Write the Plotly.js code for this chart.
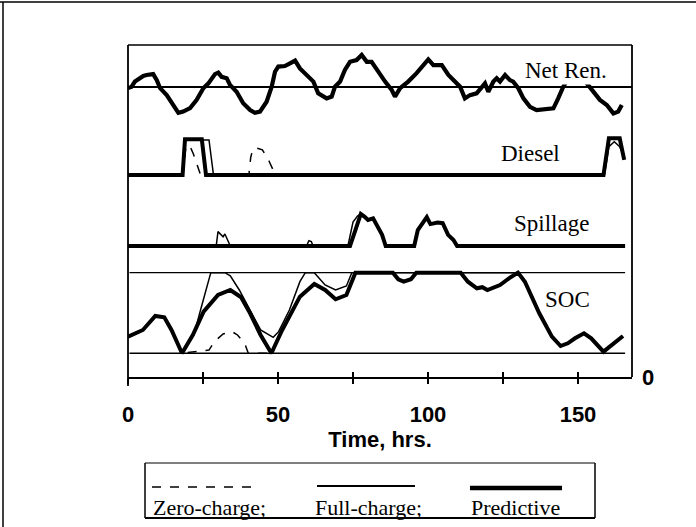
<!DOCTYPE html>
<html>
<head>
<meta charset="utf-8">
<script src="https://cdn.plot.ly/plotly-3.0.1.min.js"></script>
<style>
  html, body { margin: 0; padding: 0; background: #fff; }
  #chart { width: 696px; height: 527px; }
</style>
</head>
<body>
<div id="chart"></div>
<script>
// ---- Net renewable power (normalised) ----
const netHours = [0,1.2,2.3,5.1,6.2,8.4,9.6,10.7,12.9,15.1,16.8,18.4,20.7,22.9,25.1,26.8,29,30.1,31.2,32.9,
  34,36.2,38.4,40.7,42.3,44,46.2,47.9,49,50.1,52.3,54,55.7,57.3,59.6,61.8,63.4,66.2,67.9,69,
  70.7,72.3,74,76.2,77.9,79.6,81.2,83.4,85.7,87.9,89,90.7,93.4,96.2,98.4,100.1,101.8,104.6,106.8,109,
  110.7,112.3,114,116.2,117.9,119,120.1,121.8,122.9,124,125.7,127.3,128.4,130.1,131.8,134,136.2,139,141.8,143.4,
  145.1,147.2,149.5,151.5,152.9,155.1,157.3,159.6,161.8,163.4,164.6];
const netValues = [-0.03,0.01,0.18,0.37,0.40,0.43,0.23,-0.04,-0.27,-0.6,-0.86,-0.82,-0.7,-0.43,-0.04,0.12,0.43,0.48,0.34,0.29,
  0.07,-0.16,-0.54,-0.77,-0.86,-0.82,-0.49,0.01,0.51,0.68,0.70,0.79,0.88,0.62,0.40,0.18,-0.21,-0.38,-0.32,0.01,
  0.18,0.57,0.84,0.90,1.07,0.84,0.84,0.51,0.18,-0.10,-0.32,-0.04,0.18,0.46,0.73,0.92,0.73,0.73,0.40,0.18,
  0.01,-0.38,-0.27,-0.21,0.01,0.12,-0.16,0.18,0.29,0.18,0.40,0.23,0.18,-0.04,-0.38,-0.66,-0.77,-0.74,-0.71,-0.38,
  0.01,0.35,0.5,0.3,0.12,-0.16,-0.43,-0.6,-0.88,-0.82,-0.6];

// ---- Diesel output (normalised) ----
const dieselPredHours  = [0,18.2,19.0,24.6,26.0,158.5,160.3,163.9,165.4];
const dieselPredValues = [0,0,1.02,1.02,0,0,1.05,1.05,0.43];
const dieselFullHours  = [0,18.2,19.0,27.0,28.5,158.8,160.3,162.1,163.9,165.1];
const dieselFullValues = [0,0,1.0,1.0,0,0,0.81,0.95,0.81,0.57];
const dieselZeroHours  = [0,18.2,19.3,20.5,21.8,23.3,24.2,40.3,40.9,41.6,42.5,44.8,47,48.5,49,158];
const dieselZeroValues = [0,0,0.8,0.85,0.6,0.2,0,0,0.5,0.74,0.78,0.72,0.4,0.12,0,0];

// ---- Spilled renewable energy (normalised) ----
const spillPredHours  = [0,74,75.8,77.6,78.8,80,81.7,82.9,84.7,85.9,95.4,96.6,98.4,99.6,100.8,103.2,104.9,106.7,108.5,109.7,165.7];
const spillPredValues = [0,0,0.53,1.07,0.98,0.87,0.92,0.7,0.37,0,0,0.53,0.81,0.96,0.73,0.78,0.76,0.37,0.2,0,0];
const spillFullHours  = [0,29.4,30,30.5,31.7,32.3,33.5,34.1,59.5,60.3,61.1,61.7,73.3,75,76.5,77.6];
const spillFullValues = [0,0,0.48,0.42,0.31,0.4,0.09,0,0,0.18,0.15,0,0,0.8,1.0,1.07];

// ---- Battery state of charge, % ----
const socPredHours  = [0,4.96,9.1,12.1,14.5,18,21.6,25.2,30,34.1,37.7,40.7,44.2,47.8,51.4,57.3,62.1,65.7,69.2,72.8,
  75.8,88.3,90.1,91.9,94.3,96.1,110.9,113.3,116.3,118.1,119.8,121.6,124,127,130,132.3,137.1,141.3,144.2,146.6,
  149,152,154.4,158.5,162.1,165];
const socPredValues = [20.6,28.9,46.3,44.7,28.9,0,22.7,51.6,72.3,78.5,69.5,49.6,22.7,0,28.9,70.2,86,78.5,67,72.3,
  100,100,91.8,88.8,91.8,100,100,88.8,80.6,82,78.5,81,84.7,93,100,88.8,49.6,20.6,9,12.4,
  18.6,24.8,18.6,2,12.4,21.5];
const socFullHours  = [0,4.96,9.1,12.1,14.5,18,21.6,22.4,24.5,27.6,32.3,34.1,37.1,40.7,44.2,48.4,50.2,53.8,57.3,59.1,62.1,65.7,69.2,72.8,74.6,130];
const socFullValues = [20.6,28.9,46.3,44.7,28.9,0,22.7,29,58,100,100,96,78.5,53.7,28.9,19.8,26.8,53.7,88.8,100,100,84.7,78.5,83.5,100,100];
const socZeroHours  = [0,4.96,9.1,12.1,14.5,18,27,28.8,31.7,34.7,36.5,38.9,40.1,47.8];
const socZeroValues = [20.6,28.9,46.3,44.7,28.9,0,4,14.4,24,26.8,22.7,12.4,0,0];

// ---- Axis ticks and text ----
const tickHours  = [0,25,50,75,100,125,150];
const tickLabels = ['0','','50','','100','','150'];
const panelNames = ['Net Ren.','Diesel','Spillage','SOC'];
const strategyNames = ['Zero-charge;','Full-charge;','Predictive'];

// pixel -> paper helpers for the plot box (128..632 x 45..377)
const PX = p => (p - 128) / 504;
const PY = p => (377 - p) / 332;

const ink = '#000';
const thick = 4, thin = 1.5;

function line(x, y, ya, width, dash, xa) {
  return { x: x, y: y, xaxis: xa || 'x', yaxis: ya, type: 'scatter', mode: 'lines',
           line: { color: ink, width: width, dash: dash || 'solid', shape: 'linear' },
           hoverinfo: 'skip' };
}

const traces = [
  line(netHours, netValues, 'y', 4.2),
  line(dieselZeroHours, dieselZeroValues, 'y2', thin, 'dash', 'x2'),
  line(dieselFullHours, dieselFullValues, 'y2', thin),
  line(dieselPredHours, dieselPredValues, 'y2', thick),
  line(spillFullHours, spillFullValues, 'y3', thin),
  line(spillPredHours, spillPredValues, 'y3', thick),
  line(socZeroHours, socZeroValues, 'y4', thin, 'dash'),
  line(socFullHours, socFullValues, 'y4', thin),
  line(socPredHours, socPredValues, 'y4', thick)
];

const hidden = { showgrid: false, showticklabels: false, ticks: '', showline: false, zeroline: false, fixedrange: true };

const serif = 'Liberation Serif, Times New Roman, serif';
const sans = 'Liberation Sans, Arial, sans-serif';

const shapes = [
  // plot frame
  { type: 'line', xref: 'paper', yref: 'paper', x0: 0, x1: 1, y0: 1, y1: 1, line: { color: ink, width: 1.5 } },
  { type: 'line', xref: 'paper', yref: 'paper', x0: 0, x1: 0, y0: PY(386), y1: 1, line: { color: ink, width: 1.8 } },
  { type: 'line', xref: 'paper', yref: 'paper', x0: 1, x1: 1, y0: 0, y1: 1, line: { color: ink, width: 1.8 } },
  // SOC limits (0 % and 100 %)
  { type: 'line', xref: 'x', yref: 'y4', x0: 0.5, x1: 165.7, y0: 0, y1: 0, line: { color: ink, width: 1.3 } },
  { type: 'line', xref: 'x', yref: 'y4', x0: 0.5, x1: 165.7, y0: 100, y1: 100, line: { color: ink, width: 1.3 } },
  // outer page frame
  { type: 'line', xref: 'paper', yref: 'paper', x0: PX(0), x1: PX(696), y0: PY(2), y1: PY(2), line: { color: ink, width: 1.5 } },
  { type: 'line', xref: 'paper', yref: 'paper', x0: PX(3), x1: PX(3), y0: PY(2), y1: PY(527), line: { color: ink, width: 1.5 } },
  // legend box
  { type: 'line', xref: 'paper', yref: 'paper', x0: PX(145), x1: PX(595), y0: PY(463), y1: PY(463), line: { color: ink, width: 1 } },
  { type: 'line', xref: 'paper', yref: 'paper', x0: PX(145), x1: PX(595), y0: PY(518), y1: PY(518), line: { color: ink, width: 1.8 } },
  { type: 'line', xref: 'paper', yref: 'paper', x0: PX(145), x1: PX(145), y0: PY(463), y1: PY(518), line: { color: ink, width: 1.5 } },
  { type: 'line', xref: 'paper', yref: 'paper', x0: PX(595), x1: PX(595), y0: PY(463), y1: PY(518), line: { color: ink, width: 1.5 } },
  // legend samples
  { type: 'line', xref: 'paper', yref: 'paper', x0: PX(152), x1: PX(260), y0: PY(487), y1: PY(487), line: { color: ink, width: 1.5, dash: 'dash' } },
  { type: 'line', xref: 'paper', yref: 'paper', x0: PX(317), x1: PX(415), y0: PY(486), y1: PY(486), line: { color: ink, width: 2 } },
  { type: 'line', xref: 'paper', yref: 'paper', x0: PX(470), x1: PX(562), y0: PY(488), y1: PY(488), line: { color: ink, width: 4.5 } }
];

function label(text, cx, cy, font, extra) {
  return Object.assign({ text: text, xref: 'paper', yref: 'paper', x: PX(cx), y: PY(cy),
    xanchor: 'center', yanchor: 'middle', showarrow: false, font: font }, extra || {});
}

const panelFont = { family: serif, size: 23, color: ink };
const legendFont = { family: serif, size: 22, color: ink };
const numFont = { family: sans, size: 22, color: ink, weight: 'bold' };

const annotations = [
  label(panelNames[0], 566, 70, panelFont, { bgcolor: '#fff', borderpad: 1 }),
  label(panelNames[1], 530, 153, panelFont),
  label(panelNames[2], 551, 223, panelFont),
  label(panelNames[3], 567, 299, panelFont),
  label('0', 648, 377, numFont),
  Object.assign(label(strategyNames[0], 151, 507, legendFont), { xanchor: 'left' }),
  Object.assign(label(strategyNames[1], 313, 507, legendFont), { xanchor: 'left' }),
  Object.assign(label(strategyNames[2], 469, 507, legendFont), { xanchor: 'left' })
];

const layout = {
  width: 696, height: 527,
  margin: { l: 128, r: 64, t: 45, b: 150, autoexpand: false },
  paper_bgcolor: '#fff', plot_bgcolor: '#fff',
  showlegend: false,
  xaxis: {
    range: [0, 168], anchor: 'free', position: 0, domain: [0, 1],
    showgrid: false, zeroline: false, showline: true, linecolor: ink, linewidth: 1.5,
    tickmode: 'array', tickvals: tickHours, ticktext: tickLabels,
    ticks: 'outside', ticklen: 5, tickwidth: 1.3, tickcolor: ink,
    ticklabelstandoff: 12,
    tickfont: numFont,
    title: { text: 'Time, hrs.', font: numFont, standoff: 4 },
    fixedrange: true
  },
  xaxis2: {
    range: [0, 168], overlaying: 'x', anchor: 'free', position: 0,
    showgrid: false, zeroline: false, showline: false, showticklabels: false,
    tickmode: 'array', tickvals: tickHours.slice(1),
    ticks: 'inside', ticklen: 5, tickwidth: 1.3, tickcolor: ink, fixedrange: true
  },
  yaxis:  Object.assign({}, hidden, { domain: [PY(123), PY(51)], range: [-1.2, 1.2],
            zeroline: true, zerolinecolor: ink, zerolinewidth: 1.3 }),
  yaxis2: Object.assign({}, hidden, { domain: [PY(178.5), PY(133)], range: [-0.1, 1.2] }),
  yaxis3: Object.assign({}, hidden, { domain: [PY(249), PY(210)], range: [-0.1, 1.2] }),
  yaxis4: Object.assign({}, hidden, { domain: [PY(357.3), PY(264.6)], range: [-5, 110] }),
  shapes: shapes,
  annotations: annotations
};

Plotly.newPlot('chart', traces, layout, { displayModeBar: false, staticPlot: true });
</script>
</body>
</html>
